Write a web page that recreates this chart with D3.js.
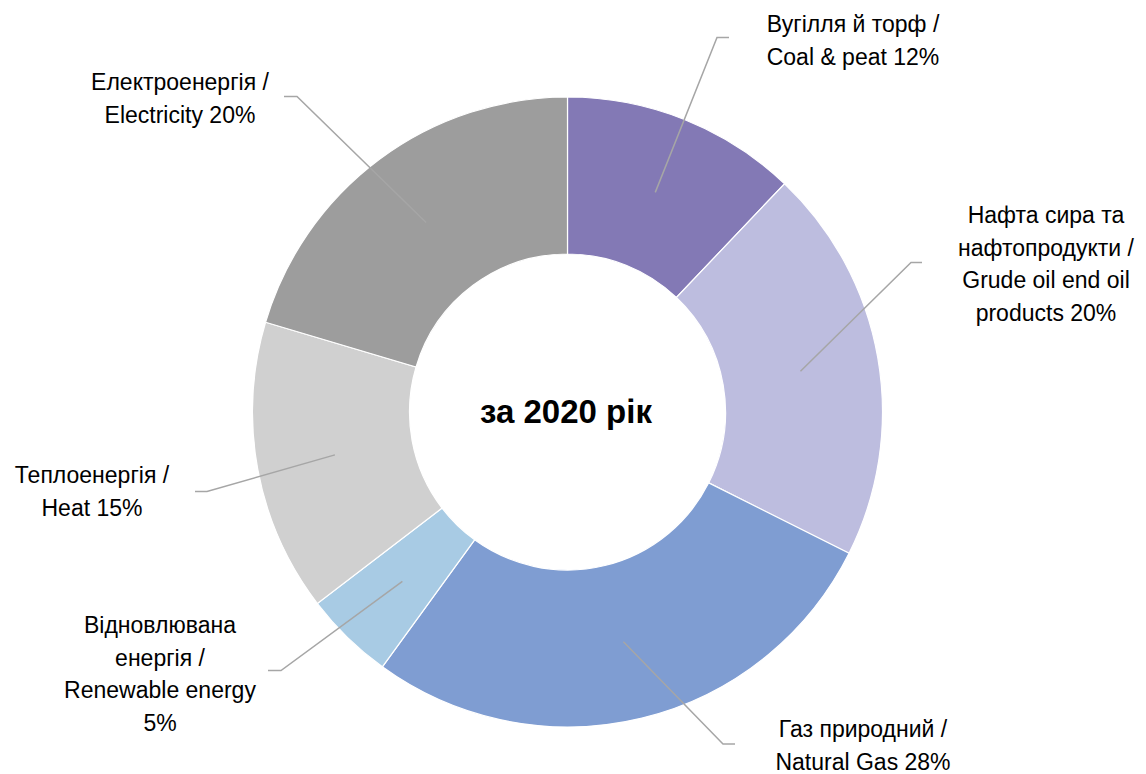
<!DOCTYPE html>
<html><head><meta charset="utf-8">
<script src="https://cdn.jsdelivr.net/npm/d3@7"></script>
<style>html,body{margin:0;padding:0;background:#fff;}svg{display:block;}</style>
</head><body>
<svg id="chart" width="1146" height="774"></svg>
<script>
// Data
const categories = ["Вугілля й торф / Coal & peat", "Нафта сира та нафтопродукти / Grude oil end oil products", "Газ природний / Natural Gas", "Відновлювана енергія / Renewable energy", "Теплоенергія / Heat", "Електроенергія / Electricity"];
const values = [12.1, 20.3, 27.6, 4.6, 15.0, 20.4];
const labelLines = [
  ["Вугілля й торф /", "Coal & peat"],
  ["Нафта сира та", "нафтопродукти /", "Grude oil end oil", "products"],
  ["Газ природний /", "Natural Gas"],
  ["Відновлювана", "енергія /", "Renewable energy", ""],
  ["Теплоенергія /", "Heat"],
  ["Електроенергія /", "Electricity"]
];
const colors = ["#8379B5", "#BDBDDF", "#7F9DD2", "#A8CBE4", "#D0D0D0", "#9D9D9D"];
const centerTitle = "за 2020 рік";

// Layout (label anchor: bend point, horizontal tail end, text center & first baseline)
const layout = [
  {bend:[717,37.5], end:[729,37.5], tx:853, ty:32},
  {bend:[911,262.5], end:[922,262.5], tx:1046, ty:223},
  {bend:[723,744], end:[735,744], tx:863, ty:737},
  {bend:[281,670.5], end:[268,670.5], tx:160, ty:633},
  {bend:[207,491.5], end:[195,491.5], tx:92, ty:483},
  {bend:[297,96.5], end:[284,96.5], tx:180, ty:90}
];

const svg = d3.select("#chart");
const cx = 567.5, cy = 412, rOuter = 315, rInner = 158;
const g = svg.append("g").attr("transform", `translate(${cx},${cy})`);

const pie = d3.pie().sort(null).value(d => d)(values);
const arc = d3.arc().innerRadius(rInner).outerRadius(rOuter);

g.selectAll("path.slice").data(pie).enter().append("path")
  .attr("class","slice")
  .attr("d", arc)
  .attr("fill", (d,i) => colors[i])
  .attr("stroke", "#fff").attr("stroke-width", 1.2);

// leader lines
const font = "'Liberation Sans', Arial, sans-serif";
pie.forEach((d,i) => {
  const c = arc.centroid(d);
  const L = layout[i];
  svg.append("polyline")
    .attr("points", [[c[0]+cx, c[1]+cy], L.bend, L.end].map(p => p.join(",")).join(" "))
    .attr("fill","none").attr("stroke","#A6A6A6").attr("stroke-width",1.5);
  const lines = labelLines[i].slice();
  const pct = Math.round(values[i]) + "%";
  const last = lines.length - 1;
  lines[last] = lines[last] ? lines[last] + " " + pct : pct;
  const t = svg.append("text")
    .attr("x", L.tx).attr("y", L.ty)
    .attr("text-anchor","middle")
    .attr("font-family", font).attr("font-size", 23).attr("fill","#000");
  lines.forEach((s,k) => {
    t.append("tspan").attr("x", L.tx).attr("y", L.ty + k*32.5).text(s);
  });
});

svg.append("text")
  .attr("x", 566).attr("y", 423)
  .attr("text-anchor","middle")
  .attr("font-family", font).attr("font-weight","bold").attr("font-size", 33)
  .attr("fill","#000")
  .text(centerTitle);
</script>
</body></html>
